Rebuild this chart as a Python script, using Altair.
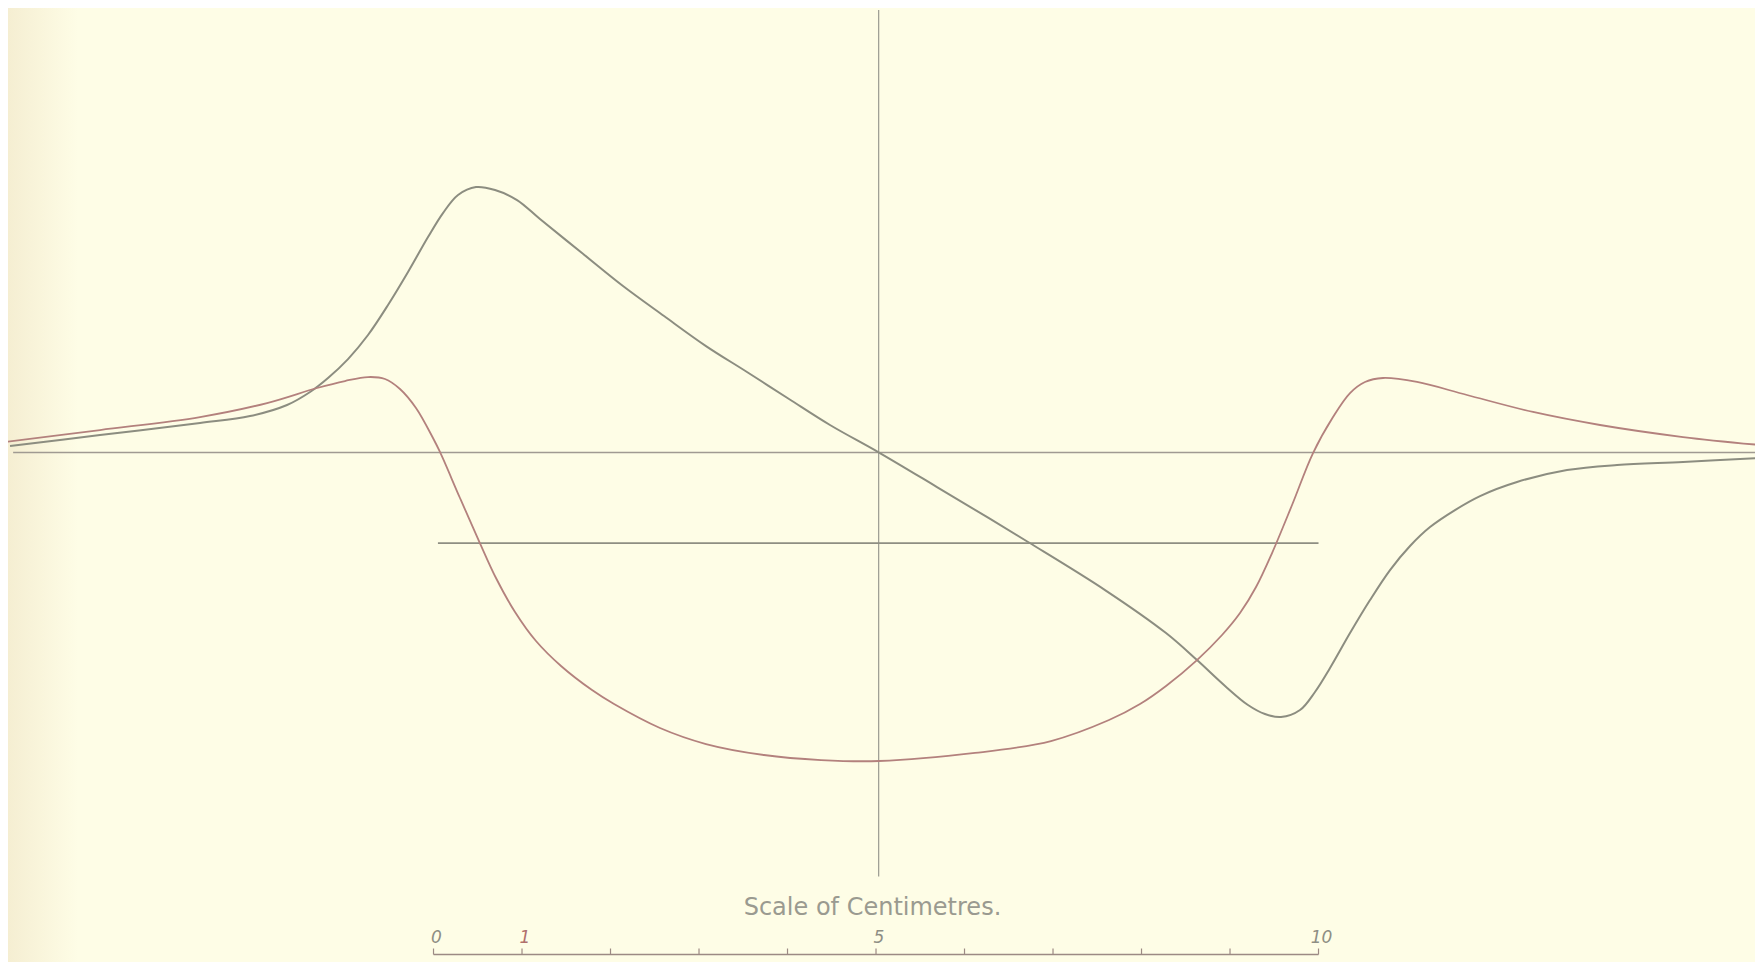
import altair as alt
import pandas as pd

# ---- data (centimetres; origin at scale "0", y=0 on the base line) ----
grey_x = [-4.785, -3.768, -2.638, -2.073, -1.655, -1.395, -1.192, -0.966, -0.740, -0.514,
          -0.288, -0.062, 0.107, 0.277, 0.480, 0.695, 0.944, 1.203, 1.678, 2.141,
          2.605, 3.079, 3.542, 4.017, 4.480, 5.034, 5.689, 6.718, 7.588, 8.277,
          8.627, 8.944, 9.203, 9.395, 9.576, 9.791, 9.960, 10.130, 10.356, 10.582,
          10.808, 11.034, 11.260, 11.542, 11.825, 12.243, 12.808, 13.373, 14.119, 14.989]
grey_y = [0.073, 0.198, 0.333, 0.412, 0.537, 0.684, 0.842, 1.056, 1.328, 1.667,
          2.040, 2.435, 2.706, 2.910, 3.000, 2.966, 2.853, 2.638, 2.254, 1.881,
          1.542, 1.203, 0.910, 0.605, 0.311, 0.0, -0.390, -1.011, -1.554, -2.040,
          -2.345, -2.638, -2.853, -2.955, -2.989, -2.910, -2.706, -2.435, -2.040, -1.667,
          -1.328, -1.056, -0.842, -0.650, -0.492, -0.333, -0.198, -0.141, -0.107, -0.062]

red_x = [-4.842, -3.768, -2.638, -1.881, -1.316, -1.000, -0.740, -0.548, -0.379, -0.198,
         -0.006, 0.073, 0.299, 0.514, 0.706, 0.921, 1.158, 1.441, 1.791, 2.040, 2.559,
         3.079, 3.734, 4.379, 5.034, 6.119, 6.977, 7.633, 7.983, 8.277, 8.627,
         8.910, 9.113, 9.294, 9.475, 9.701, 9.938, 10.164, 10.356, 10.525, 10.729,
         11.113, 11.678, 12.424, 13.181, 14.119, 14.989]
red_y = [0.119, 0.254, 0.401, 0.559, 0.729, 0.808, 0.853, 0.831, 0.718, 0.503,
         0.164, 0.006, -0.514, -1.000, -1.418, -1.802, -2.130, -2.412, -2.684, -2.842, -3.113,
         -3.294, -3.418, -3.475, -3.486, -3.395, -3.260, -3.023, -2.842, -2.638, -2.345,
         -2.062, -1.814, -1.520, -1.136, -0.593, -0.006, 0.401, 0.672, 0.797, 0.842,
         0.797, 0.650, 0.458, 0.311, 0.175, 0.085]

# reference lines (cm)
base_line = {"x": [-4.75], "x2": [15.1], "y": [0.0]}
vertical_line = {"x": [5.03], "y": [5.0], "y2": [-4.79]}
short_line = {"x": [0.05], "x2": [10.0], "y": [-1.023]}

# scale of centimetres
scale_ticks = list(range(0, 11))
scale_label_pos = [0, 1, 5, 10]
scale_label_txt = ["0", "1", "5", "10"]
scale_label_col = ["grey", "red", "grey", "grey"]
scale_title = "Scale of Centimetres."

# ---- styling ----
BG = "#FEFDE6"
GREY = "#8C8D80"
RED = "#B3817D"
W, H = 1747, 954
xs = alt.Scale(domain=[-4.808, 14.932], nice=False, zero=False)
ys = alt.Scale(domain=[-5.757, 5.023], nice=False, zero=False)

def X(field="x"):
    return alt.X(f"{field}:Q", scale=xs, axis=None)

def Y(field="y"):
    return alt.Y(f"{field}:Q", scale=ys, axis=None)

edge = alt.Chart(pd.DataFrame({"a": [0]})).mark_rect(
    color={"gradient": "linear", "x1": 0, "x2": 1, "y1": 0, "y2": 0,
           "stops": [{"offset": 0, "color": "#F5EED2"}, {"offset": 1, "color": BG}]}
).encode(x=alt.value(0), x2=alt.value(70), y=alt.value(0), y2=alt.value(H))

grey = alt.Chart(pd.DataFrame({"x": grey_x, "y": grey_y})).mark_line(
    color=GREY, strokeWidth=2, interpolate="catmull-rom", clip=False
).encode(x=X(), y=Y())

red = alt.Chart(pd.DataFrame({"x": red_x, "y": red_y})).mark_line(
    color=RED, strokeWidth=1.8, interpolate="catmull-rom", clip=False
).encode(x=X(), y=Y())

base = alt.Chart(pd.DataFrame(base_line)).mark_rule(color="#A09A92", strokeWidth=1.4).encode(
    x=X(), x2="x2:Q", y=Y())
vert = alt.Chart(pd.DataFrame(vertical_line)).mark_rule(color="#9A9A90", strokeWidth=1.2).encode(
    x=X(), y=Y(), y2="y2:Q")
short = alt.Chart(pd.DataFrame(short_line)).mark_rule(color="#8E8E82", strokeWidth=1.8).encode(
    x=X(), x2="x2:Q", y=Y())

bar = alt.Chart(pd.DataFrame({"x": [0], "x2": [10]})).mark_rule(
    color="#9C8A84", strokeWidth=1.3).encode(x=X(), x2="x2:Q", y=alt.value(946.5))
ticks = alt.Chart(pd.DataFrame({"x": scale_ticks})).mark_rule(
    color="#9C8A84", strokeWidth=1.2).encode(x=X(), y=alt.value(940.5), y2=alt.value(946.5))
labels = alt.Chart(pd.DataFrame({"x": scale_label_pos, "t": scale_label_txt, "c": scale_label_col})).mark_text(
    font="DejaVu Sans", fontSize=17, fontStyle="italic", baseline="alphabetic", align="center", dx=3
).encode(
    x=X(), y=alt.value(935), text="t:N",
    color=alt.Color("c:N", scale=alt.Scale(domain=["grey", "red"], range=["#8E8E84", "#B0706C"]), legend=None),
)
title = alt.Chart(pd.DataFrame({"x": [4.96], "t": [scale_title]})).mark_text(
    font="DejaVu Sans", fontSize=24, color="#9A9A90", baseline="alphabetic", align="center"
).encode(x=X(), y=alt.value(907), text="t:N")

chart = alt.layer(edge, base, vert, short, grey, red, bar, ticks, labels, title).properties(
    width=W, height=H, background=BG, padding=0,
    autosize=alt.AutoSizeParams(type="none"),
).configure_view(stroke=None)

chart.save("out.html", embed_options={"renderer": "svg", "actions": False})
